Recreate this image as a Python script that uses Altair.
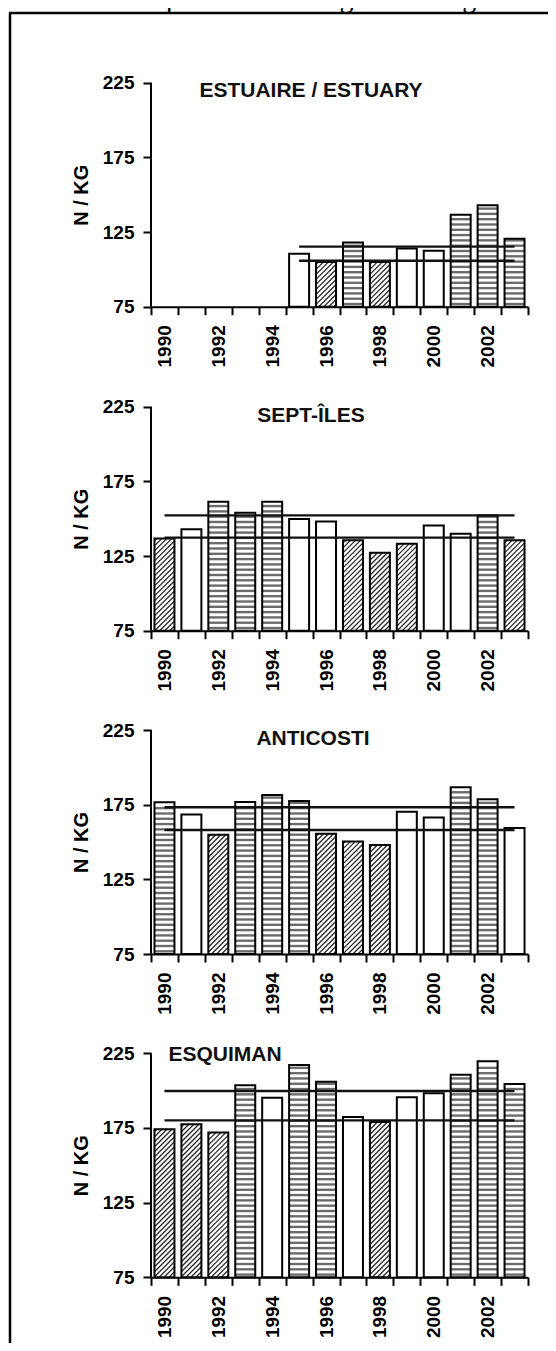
import altair as alt
import numpy as np
import pandas as pd

# ---------------- data ----------------
years = list(range(1990, 2004))
panel_titles = ["ESTUAIRE / ESTUARY", "SEPT-ÎLES", "ANTICOSTI", "ESQUIMAN"]

estuary_values = [None, None, None, None, None, 110.5, 105.0, 118.0, 105.0, 114.0, 112.5, 136.5, 143.0, 120.5]
estuary_classes = [None, None, None, None, None, "W", "H", "S", "H", "W", "W", "S", "S", "S"]
septiles_values = [136.8, 142.9, 161.4, 154.0, 161.4, 149.8, 148.2, 135.5, 127.2, 133.3, 145.5, 140.0, 152.2, 135.5]
septiles_classes = ["H", "W", "S", "S", "S", "W", "W", "H", "H", "H", "W", "W", "S", "H"]
anticosti_values = [176.6, 168.4, 154.9, 176.8, 181.5, 177.5, 155.5, 150.4, 148.0, 170.2, 166.4, 186.6, 178.6, 159.3]
anticosti_classes = ["S", "W", "H", "S", "S", "S", "H", "H", "H", "W", "W", "S", "S", "W"]
esquiman_values = [174.1, 177.5, 171.9, 203.6, 195.3, 217.2, 206.0, 182.4, 179.0, 195.5, 198.2, 210.7, 219.6, 204.5]
esquiman_classes = ["H", "H", "H", "S", "W", "S", "S", "W", "H", "W", "W", "S", "S", "S"]

upper_means = [115.2, 152.2, 173.3, 199.8]
lower_means = [105.8, 137.3, 158.0, 180.1]
mean_first_year = [1995, 1990, 1990, 1990]
mean_last_year = [2003, 2003, 2003, 2003]

y_ticks = [75, 125, 175, 225]
y_title = "N / KG"
caption = "hectare dans les quatre zones de gestion du go"

all_values = [estuary_values, septiles_values, anticosti_values, esquiman_values]
all_classes = [estuary_classes, septiles_classes, anticosti_classes, esquiman_classes]

# ---------------- layout / style ----------------
OFF_Y = 8             # page y of the svg top
W, H = 377, 1335
PAD_L, PAD_R = 143, 20
PANEL_TOP = [82.7 - OFF_Y, 406.7 - OFF_Y, 730.0 - OFF_Y, 1053.3 - OFF_Y]
PANEL_H = 224
TITLE_X = [160, 160, 162, 74]
TITLE_DY = [14, 15, 15, 8]
BAR_HALF = 0.371
X_LO, X_HI = years[0] - 0.5, years[-1] + 0.5
PX_YEAR = W / (X_HI - X_LO)
PX_UNIT = PANEL_H / (y_ticks[-1] - y_ticks[0])
STRIPE_STEP = 3.55
STRIPE_W = 2.4
HATCH_STEP = 5.0
FONT = "Liberation Sans"
BASE = y_ticks[0]

bounds = [y - 0.5 for y in years] + [years[-1] + 0.5]
xscale = alt.Scale(domain=[X_LO, X_HI], nice=False, zero=False)


def xaxis(k):
    b = PANEL_TOP[k] + PANEL_H
    return alt.Axis(
        orient="bottom", offset=-(H - b), values=bounds, title=None, grid=False,
        domain=True, domainColor="black", domainWidth=2,
        ticks=True, tickSize=8, tickWidth=2, tickColor="black",
        labelExpr=f"((datum.value + 0.5) % 2 == 0 && datum.value < {years[-1]}) ? toString(datum.value + 0.5) : ''",
        labelAngle=270, labelAlign="right", labelBaseline="middle",
        labelOffset=PX_YEAR / 2, labelPadding=10, labelFont=FONT, labelFontSize=19,
        labelFontWeight="bold", labelColor="black", labelOverlap=False,
        labelFlush=False, labelBound=False,
    )


def yscale(k):
    t = PANEL_TOP[k]
    upp = 150.0 / PANEL_H
    d1 = 225 + t * upp
    d0 = d1 - H * upp
    return alt.Scale(domain=[d0, d1], nice=False, zero=False)


def yaxis(k):
    t = PANEL_TOP[k]
    return alt.Axis(
        orient="left", values=y_ticks, grid=False, domain=False,
        ticks=True, tickSize=8, tickWidth=2, tickColor="black",
        labelFont=FONT, labelFontSize=19, labelFontWeight="bold", labelColor="black",
        labelPadding=9, labelOverlap=False, labelFlush=False, labelBound=False,
        title=y_title, titleFont=FONT, titleFontSize=20, titleFontWeight="bold",
        titleColor="black", titleX=-70, titleY=t + PANEL_H / 2, titleAngle=270,
        titleAlign="center", titleBaseline="middle",
    )


def X(field, k):
    return alt.X(field, type="quantitative", scale=xscale, axis=xaxis(k))


def Y(field, k):
    return alt.Y(field, type="quantitative", scale=yscale(k), axis=yaxis(k))


def hatch_rows(year, v):
    w = 2 * BAR_HALF * PX_YEAR
    h = (v - BASE) * PX_UNIT
    rows = []
    kk = -h + HATCH_STEP / 2
    while kk < w:
        u0 = max(0.0, kk)
        u1 = min(w, h + kk)
        if u1 > u0:
            rows.append(dict(
                hx=year - BAR_HALF + u0 / PX_YEAR, hx2=year - BAR_HALF + u1 / PX_YEAR,
                hy=BASE + (u0 - kk) / PX_UNIT, hy2=BASE + (u1 - kk) / PX_UNIT))
        kk += HATCH_STEP
    return rows


panels = []
for k in range(4):
    vals = all_values[k]
    cls = all_classes[k]
    bars = pd.DataFrame({"year": years, "v": vals, "cls": cls}).dropna()
    bars["v"] = bars["v"].astype(float)

    stripe_rows = []
    hatch = []
    for yr, v, c in zip(bars["year"], bars["v"], bars["cls"]):
        if c == "S":
            for sy in np.arange(BASE + 1.8, v - 0.8, STRIPE_STEP):
                stripe_rows.append(dict(year=yr, sy=float(sy)))
        elif c == "H":
            hatch.extend(hatch_rows(yr, v))
    stripes = pd.DataFrame(stripe_rows)
    hatch_df = pd.DataFrame(hatch)

    means = pd.DataFrame({
        "m": [upper_means[k], lower_means[k]],
        "xs": [mean_first_year[k]] * 2,
        "xe": [mean_last_year[k]] * 2,
    })
    yline = pd.DataFrame({"lo": [y_ticks[0]], "hi": [y_ticks[-1]]})
    tdf = pd.DataFrame({"title": [panel_titles[k]], "ty": [y_ticks[-1]]})

    calc = dict(x0=f"datum.year - {BAR_HALF}", x1=f"datum.year + {BAR_HALF}")

    base_l = alt.Chart(bars).transform_calculate(**calc).mark_rect(
        fill="white", strokeOpacity=0
    ).encode(x=X("x0", k), x2="x1:Q", y=Y("v", k), y2=alt.datum(BASE))

    stripe_l = alt.Chart(stripes).transform_calculate(**calc).mark_rule(
        color="#6c6c6c", strokeWidth=STRIPE_W
    ).encode(x=X("x0", k), x2="x1:Q", y=Y("sy", k))

    hatch_l = alt.Chart(hatch_df).mark_rule(color="#2a2a2a", strokeWidth=1.3).encode(
        x=X("hx", k), x2="hx2:Q", y=Y("hy", k), y2="hy2:Q"
    )

    outline_l = alt.Chart(bars).transform_calculate(**calc).mark_rect(
        fillOpacity=0, stroke="black", strokeWidth=2
    ).encode(x=X("x0", k), x2="x1:Q", y=Y("v", k), y2=alt.datum(BASE))

    means_l = alt.Chart(means).mark_rule(color="#111111", strokeWidth=2.4).encode(
        x=X("xs", k), x2="xe:Q", y=Y("m", k)
    )

    yline_l = alt.Chart(yline).mark_rule(color="black", strokeWidth=2).encode(
        x=alt.value(0), y=Y("lo", k), y2="hi:Q"
    )

    title_l = alt.Chart(tdf).mark_text(
        font=FONT, fontSize=21, fontWeight="bold", color="#111111",
        align="center", baseline="alphabetic", dy=TITLE_DY[k]
    ).encode(x=alt.value(TITLE_X[k]), y=Y("ty", k), text="title:N")

    layers = [base_l, stripe_l, hatch_l, outline_l, means_l, yline_l, title_l]

    if k == 0:
        one = pd.DataFrame({"t": [caption]})
        frame_left = alt.Chart(one).mark_rule(color="black", strokeWidth=2.5).encode(
            x=alt.value(-141), y=alt.value(13 - OFF_Y), y2=alt.value(H + 5)
        )
        frame_top = alt.Chart(one).mark_rule(color="black", strokeWidth=2.5).encode(
            x=alt.value(-142), x2=alt.value(W + PAD_R + 5), y=alt.value(13 - OFF_Y)
        )
        cap_l = alt.Chart(one).mark_text(
            font="Liberation Serif", fontSize=28, color="black", align="left",
            baseline="alphabetic"
        ).encode(x=alt.value(-8 - 26 - PAD_L), y=alt.value(-1), text="t:N")
        layers += [frame_left, frame_top, cap_l]

    panels.append(alt.layer(*layers))

chart = (
    alt.layer(*panels)
    .resolve_scale(x="independent", y="independent")
    .properties(
        width=W, height=H,
        autosize=alt.AutoSizeParams(type="none"),
        padding={"left": PAD_L, "top": 0, "right": PAD_R, "bottom": 0},
        background="white",
    )
    .configure_view(strokeOpacity=0)
)

chart.save("out.html", embed_options={"renderer": "svg", "actions": False})
